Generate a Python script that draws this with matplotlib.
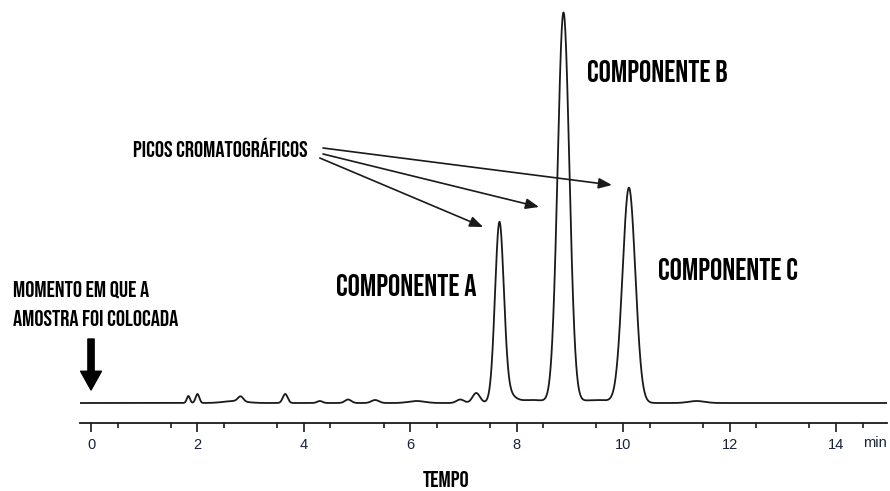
import numpy as np
import matplotlib
matplotlib.use("Agg")
import matplotlib.pyplot as plt

peak_time  = [1.83, 2.00, 2.70, 2.81, 3.65, 4.30, 4.83, 5.34, 6.12, 6.94, 7.24,
              7.675, 7.78, 8.30, 8.88, 9.50, 10.11, 11.38]
peak_height = [7, 9, 2, 5, 9, 2, 3.5, 3, 2, 3.5, 10,
               172, 12, 3, 390, 3, 215, 2]
peak_sigma = [0.03, 0.035, 0.2, 0.05, 0.045, 0.05, 0.06, 0.07, 0.15, 0.07, 0.07,
              0.082, 0.14, 0.25, 0.11, 0.3, 0.12, 0.15]

xticks = [0, 2, 4, 6, 8, 10, 12, 14]

t = np.linspace(-0.2, 14.95, 4000)
signal = np.zeros_like(t)
for t0, h, s in zip(peak_time, peak_height, peak_sigma):
    signal += h * np.exp(-0.5 * ((t - t0) / s) ** 2)

lab = ["Bebas Neue", "League Gothic", "DejaVu Sans"]

fig = plt.figure(figsize=(8.9, 4.91), dpi=100)
ax = fig.add_axes([80 / 890, (491 - 423) / 491, 807 / 890, 423 / 491])
ax.plot(t, signal, color="#1a1a1a", linewidth=1.3)
ax.set_xlim(-0.207, 14.96)
ax.set_ylim(-20, 403)

for s in ["top", "right", "left"]:
    ax.spines[s].set_visible(False)
ax.spines["bottom"].set_linewidth(1.3)
ax.spines["bottom"].set_color("#1a1a1a")
ax.set_yticks([])
ax.set_xticks(xticks)
ax.set_xticks(np.arange(0.5, 15, 1.0), minor=True)
ax.tick_params(axis="x", which="major", length=6.5, width=1.2, pad=4.5, direction="out",
               labelsize=10.5, labelcolor="#18213a", color="#1a1a1a")
ax.tick_params(axis="x", which="minor", length=3.5, width=1.2, color="#1a1a1a")
for lb in ax.get_xticklabels():
    lb.set_family("Liberation Sans")
ax.text(14.73, -40, "min", ha="center", va="center", fontsize=10.5, color="#18213a",
        family="Liberation Sans", clip_on=False)

# textos
ax.text(4.604, 107, "COMPONENTE A", fontsize=22, family=lab, va="baseline")
ax.text(9.32, 321, "COMPONENTE B", fontsize=22, family=lab, va="baseline")
ax.text(10.656, 123, "COMPONENTE C", fontsize=22, family=lab, va="baseline")
ax.text(0.784, 246, "PICOS CROMATOGRÁFICOS", fontsize=16.5, family=lab, va="baseline")
ax.text(-1.47, 106, "MOMENTO EM QUE A", fontsize=16.5, family=lab, va="baseline", clip_on=False)
ax.text(-1.47, 77, "AMOSTRA FOI COLOCADA", fontsize=16.5, family=lab, va="baseline", clip_on=False)
ax.text(6.234, -84, "TEMPO", fontsize=16.5, family=lab, va="baseline", clip_on=False)

# setas dos picos
arr = dict(arrowstyle="-|>,head_length=1.0,head_width=0.4", color="#1a1a1a", lw=1.2,
           mutation_scale=8, shrinkA=0, shrinkB=0)
ax.annotate("", xy=(9.79, 218), xytext=(4.36, 255), arrowprops=arr)
ax.annotate("", xy=(8.42, 196), xytext=(4.36, 249), arrowprops=arr)
ax.annotate("", xy=(7.37, 176), xytext=(4.30, 245), arrowprops=arr)

# seta da injeção
ax.annotate("", xy=(0, 13), xytext=(0, 64),
            arrowprops=dict(arrowstyle="simple,head_length=1.35,head_width=1.5,tail_width=0.45",
                            color="black", mutation_scale=10, shrinkA=0, shrinkB=0))

fig.savefig("out.png", dpi=100)
